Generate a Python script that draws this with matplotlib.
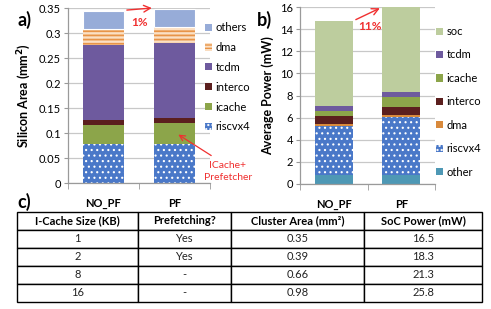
import matplotlib
matplotlib.use("Agg")
import matplotlib.pyplot as plt
import numpy as np
from matplotlib.patches import Patch

plt.rcParams['font.family'] = ['Lato', 'DejaVu Sans']

# ---------------- data ----------------
categories = ["NO_PF", "PF"]

# chart a: silicon area (mm^2), stacked bottom->top
area_labels = ["riscvx4", "icache", "interco", "tcdm", "dma", "others"]
area_riscvx4 = [0.078, 0.078]
area_icache = [0.039, 0.042]
area_interco = [0.010, 0.010]
area_tcdm = [0.150, 0.150]
area_dma = [0.032, 0.032]
area_others = [0.036, 0.037]

# chart b: average power (mW), stacked bottom->top
power_labels = ["other", "riscvx4", "dma", "interco", "icache", "tcdm", "soc"]
pow_other = [0.78, 0.78]
pow_riscvx4 = [4.42, 5.25]
pow_dma = [0.23, 0.21]
pow_interco = [0.75, 0.75]
pow_icache = [0.42, 0.88]
pow_tcdm = [0.45, 0.48]
pow_soc = [7.70, 7.65]

area_ticks = [0, 0.05, 0.1, 0.15, 0.2, 0.25, 0.3, 0.35]
power_ticks = [0, 2, 4, 6, 8, 10, 12, 14, 16]

table_header = ["I-Cache Size (KB)", "Prefetching?", "Cluster Area (mm²)", "SoC Power (mW)"]
table_cache = ["1", "2", "8", "16"]
table_prefetch = ["Yes", "Yes", "-", "-"]
table_area = ["0.35", "0.39", "0.66", "0.98"]
table_power = ["16.5", "18.3", "21.3", "25.8"]

# ---------------- styles ----------------
C_BLUE = "#4A78C8"
C_OTHERS = "#97ACD8"
C_DMA_FACE = "#FBE0C4"
C_DMA_LINE = "#E89448"
C_TCDM = "#6E5A9E"
C_INTERCO = "#5B1F1E"
C_ICACHE = "#8CA54A"
C_SOC = "#BDCD9E"
C_DMA_B = "#D98A3C"
C_OTHER_B = "#4E98B5"
RED = "#F03030"
GRID = "#C8C8C8"
AXC = "#9A9A9A"

W, H = 491, 309
fig = plt.figure(figsize=(W / 100, H / 100), dpi=100)

def fx(px):
    return px / W

def fy(py):
    return 1 - py / H

FS = 8


def style_axes(ax, ticks, fmt):
    ax.set_xlim(-0.5, 1.5)
    ax.set_yticks(ticks)
    ax.set_yticklabels([fmt(t) for t in ticks], fontsize=FS)
    ax.set_ylim(ticks[0], ticks[-1])
    ax.yaxis.grid(True, color=GRID, lw=0.9)
    ax.set_axisbelow(True)
    for s in ["top", "right"]:
        ax.spines[s].set_visible(False)
    for s in ["left", "bottom"]:
        ax.spines[s].set_color(AXC)
        ax.spines[s].set_linewidth(0.9)
    ax.tick_params(axis='y', length=3, color=AXC, pad=2)
    ax.set_xticks([0, 1])
    ax.set_xticklabels(categories, fontsize=FS, fontweight='bold')
    ax.tick_params(axis='x', which='major', length=0, pad=10.5)
    ax.set_xticks([-0.5, 0.5, 1.5], minor=True)
    ax.tick_params(axis='x', which='minor', length=4, color=AXC)


x = np.arange(len(categories))
DOT_LW = 0.8

# ---------------- chart a ----------------
axa = fig.add_axes([fx(68), fy(183), fx(142), (183 - 8.3) / H])
bw = 0.58
bottom = np.zeros(2)
with plt.rc_context({'hatch.linewidth': DOT_LW}):
    axa.bar(x, area_riscvx4, bw, bottom=bottom, color=C_BLUE, edgecolor='white', lw=0, hatch='...')
bottom += area_riscvx4
axa.bar(x, area_icache, bw, bottom=bottom, color=C_ICACHE, lw=0)
bottom += area_icache
axa.bar(x, area_interco, bw, bottom=bottom, color=C_INTERCO, lw=0)
bottom += area_interco
axa.bar(x, area_tcdm, bw, bottom=bottom, color=C_TCDM, lw=0)
bottom += area_tcdm
with plt.rc_context({'hatch.linewidth': 1.3}):
    axa.bar(x, area_dma, bw, bottom=bottom, color=C_DMA_FACE, edgecolor=C_DMA_LINE, lw=0, hatch='----')
bottom += area_dma
axa.bar(x, area_others, bw, bottom=bottom, color=C_OTHERS, edgecolor='white', lw=0.8)
bottom += area_others
style_axes(axa, area_ticks, lambda v: f"{v:g}")
axa.set_ylabel("Silicon Area (mm$^\\mathbf{2}$)", fontsize=9, fontweight='bold', labelpad=4)

# legend a
with plt.rc_context({'hatch.linewidth': 0.6}):
    hs_a = [Patch(facecolor=C_OTHERS, lw=0),
            Patch(facecolor=C_DMA_FACE, edgecolor=C_DMA_LINE, lw=0, hatch='-----'),
            Patch(facecolor=C_TCDM, lw=0),
            Patch(facecolor=C_INTERCO, lw=0),
            Patch(facecolor=C_ICACHE, lw=0),
            Patch(facecolor=C_BLUE, edgecolor='white', lw=0, hatch='....')]
leg_a = fig.legend(hs_a, area_labels[::-1], loc='upper left', bbox_to_anchor=(fx(205), fy(22)),
                   frameon=False, fontsize=FS, handlelength=0.6, handleheight=0.6,
                   handletextpad=0.35, labelspacing=0.8, borderpad=0, borderaxespad=0)

# annotations a
axa.annotate("", xy=(0.72, 0.351), xytext=(0.29, 0.346),
             arrowprops=dict(arrowstyle='->', color=RED, lw=1.0, mutation_scale=12), annotation_clip=False)
axa.text(0.51, 0.3225, "1%", color=RED, fontsize=8.5, fontweight='bold', ha='center', va='center')
fig.text(fx(228), fy(165), "ICache+", color=RED, fontsize=7.5, ha='center', va='center')
fig.text(fx(228), fy(177), "Prefetcher", color=RED, fontsize=7.5, ha='center', va='center')
axa.annotate("", xy=(1.02, 0.1), xytext=(1.55, 0.052),
             arrowprops=dict(arrowstyle='->', color=RED, lw=0.9, mutation_scale=10), annotation_clip=False)

# ---------------- chart b ----------------
axb = fig.add_axes([fx(300), fy(184), fx(135), (184 - 7) / H])
bw = 0.56
bottom = np.zeros(2)
axb.bar(x, pow_other, bw, bottom=bottom, color=C_OTHER_B, lw=0)
bottom += pow_other
with plt.rc_context({'hatch.linewidth': DOT_LW}):
    axb.bar(x, pow_riscvx4, bw, bottom=bottom, color=C_BLUE, edgecolor='white', lw=0, hatch='...')
bottom += pow_riscvx4
axb.bar(x, pow_dma, bw, bottom=bottom, color=C_DMA_B, lw=0)
bottom += pow_dma
axb.bar(x, pow_interco, bw, bottom=bottom, color=C_INTERCO, lw=0)
bottom += pow_interco
axb.bar(x, pow_icache, bw, bottom=bottom, color=C_ICACHE, lw=0)
bottom += pow_icache
axb.bar(x, pow_tcdm, bw, bottom=bottom, color=C_TCDM, lw=0)
bottom += pow_tcdm
axb.bar(x, pow_soc, bw, bottom=bottom, color=C_SOC, lw=0)
bottom += pow_soc
style_axes(axb, power_ticks, lambda v: f"{v:g}")
axb.set_ylabel("Average Power (mW)", fontsize=9, fontweight='bold', labelpad=4)

with plt.rc_context({'hatch.linewidth': 0.6}):
    hs_b = [Patch(facecolor=C_SOC, lw=0),
            Patch(facecolor=C_TCDM, lw=0),
            Patch(facecolor=C_ICACHE, lw=0),
            Patch(facecolor=C_INTERCO, lw=0),
            Patch(facecolor=C_DMA_B, lw=0),
            Patch(facecolor=C_BLUE, edgecolor='white', lw=0, hatch='....'),
            Patch(facecolor=C_OTHER_B, lw=0)]
leg_b = fig.legend(hs_b, power_labels[::-1], loc='upper left', bbox_to_anchor=(fx(436), fy(26)),
                   frameon=False, fontsize=FS, handlelength=0.6, handleheight=0.6,
                   handletextpad=0.35, labelspacing=1.12, borderpad=0, borderaxespad=0)

axb.annotate("", xy=(0.72, 16.0), xytext=(0.29, 14.75),
             arrowprops=dict(arrowstyle='->', color=RED, lw=1.0, mutation_scale=12), annotation_clip=False)
axb.text(0.54, 14.2, "11%", color=RED, fontsize=8.5, fontweight='bold', ha='center', va='center')

# panel labels
fig.text(fx(17), fy(20), "a)", fontsize=13, fontweight='bold', ha='left', va='center')
fig.text(fx(257), fy(20), "b)", fontsize=13, fontweight='bold', ha='left', va='center')
fig.text(fx(17), fy(202), "c)", fontsize=13, fontweight='bold', ha='left', va='center')

# ---------------- table ----------------
axt = fig.add_axes([fx(17), fy(302), fx(465), (302 - 212) / H])
axt.axis('off')
rows = [list(r) for r in zip(table_cache, table_prefetch, table_area, table_power)]
colw = np.array([121, 93, 134, 118], dtype=float)
colw = colw / colw.sum()
tbl = axt.table(cellText=rows, colLabels=table_header, colWidths=list(colw),
                cellLoc='center', bbox=[0, 0, 1, 1])
tbl.auto_set_font_size(False)
for (r, c), cell in tbl.get_celld().items():
    cell.set_edgecolor('black')
    cell.set_linewidth(1.0)
    cell.set_text_props(fontsize=FS, color='#222222')
    if r == 0:
        cell.set_text_props(fontweight='bold', fontsize=FS, color='black')

fig.savefig("out.png", dpi=100)
